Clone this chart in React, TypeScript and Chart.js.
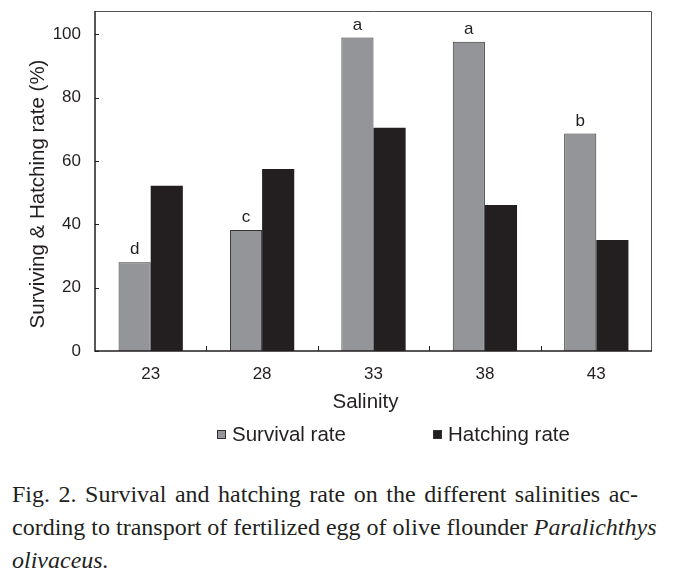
import React, { useEffect, useRef } from "react";
import { Chart, registerables } from "chart.js";

Chart.register(...registerables);

const categories = ["23", "28", "33", "38", "43"];
const survivalRate = [28.0, 38.2, 99.0, 97.7, 68.7];
const hatchingRate = [52.2, 57.5, 70.5, 46.1, 35.1];
const significance = ["d", "c", "a", "a", "b"];
const yTickValues = [0, 20, 40, 60, 80, 100];
const yMax = 107.4;

const seriesNames = ["Survival rate", "Hatching rate"];
const yTitle = "Surviving & Hatching rate (%)";
const xTitle = "Salinity";

const SANS = "'Liberation Sans', Arial, Helvetica, sans-serif";
const INK = "#231f20";
const GREY = "#939598";

const decor = {
  id: "decor",
  afterDatasetsDraw(chart: any) {
    const ctx = chart.ctx;
    const meta = chart.getDatasetMeta(0);
    ctx.save();
    ctx.fillStyle = INK;
    ctx.font = `17px ${SANS}`;
    ctx.textAlign = "center";
    ctx.textBaseline = "alphabetic";
    meta.data.forEach((bar: any, i: number) => {
      ctx.fillText(significance[i], bar.x, bar.y - 8);
    });
    ctx.restore();
  },
  afterDraw(chart: any) {
    const ctx = chart.ctx;
    const { left, right, top, bottom } = chart.chartArea;
    const xs = chart.scales.x;
    const ys = chart.scales.y;
    ctx.save();
    // frame
    ctx.strokeStyle = "#555";
    ctx.lineWidth = 1;
    ctx.beginPath();
    ctx.moveTo(left, top + 0.5);
    ctx.lineTo(right - 0.5, top + 0.5);
    ctx.lineTo(right - 0.5, bottom);
    ctx.stroke();
    ctx.strokeStyle = INK;
    ctx.lineWidth = 1.5;
    ctx.beginPath();
    ctx.moveTo(left, top);
    ctx.lineTo(left, bottom);
    ctx.lineTo(right, bottom);
    ctx.stroke();
    // inner ticks
    ctx.lineWidth = 1;
    ctx.beginPath();
    yTickValues.forEach((v) => {
      const y = Math.round(ys.getPixelForValue(v)) + 0.5;
      ctx.moveTo(left, y);
      ctx.lineTo(left + 4, y);
    });
    for (let i = 1; i < categories.length; i++) {
      const x = Math.round((xs.getPixelForValue(i - 1) + xs.getPixelForValue(i)) / 2) + 0.5;
      ctx.moveTo(x, bottom);
      ctx.lineTo(x, bottom - 5);
    }
    ctx.stroke();
    // y title
    ctx.fillStyle = INK;
    ctx.font = `20.5px ${SANS}`;
    ctx.textAlign = "center";
    ctx.textBaseline = "middle";
    ctx.save();
    ctx.translate(38, 194);
    ctx.rotate(-Math.PI / 2);
    ctx.fillText(yTitle, 0, 0);
    ctx.restore();
    // x title
    ctx.textBaseline = "alphabetic";
    ctx.fillText(xTitle, (left + right) / 2 - 8, bottom + 57);
    // legend
    const legendItems = [
      { x: 217, color: GREY },
      { x: 433, color: INK },
    ];
    ctx.textAlign = "left";
    legendItems.forEach((it, i) => {
      ctx.fillStyle = it.color;
      ctx.fillRect(it.x, 430, 9, 9);
      ctx.strokeStyle = "#333";
      ctx.lineWidth = 1;
      ctx.strokeRect(it.x + 0.5, 430.5, 8, 8);
      ctx.fillStyle = INK;
      ctx.fillText(seriesNames[i], it.x + 15, 441);
    });
    ctx.restore();
  },
};

export default function App() {
  const ref = useRef<HTMLCanvasElement | null>(null);
  useEffect(() => {
    if (!ref.current) return;
    const chart = new Chart(ref.current, {
      type: "bar",
      data: {
        labels: categories,
        datasets: [
          {
            label: seriesNames[0],
            data: survivalRate,
            backgroundColor: GREY,
            borderColor: "#333",
            borderWidth: 1,
            borderSkipped: "bottom",
            barPercentage: 1,
            categoryPercentage: 0.577,
          },
          {
            label: seriesNames[1],
            data: hatchingRate,
            backgroundColor: INK,
            borderColor: INK,
            borderWidth: 0,
            barPercentage: 1,
            categoryPercentage: 0.577,
          },
        ],
      },
      options: {
        responsive: false,
        animation: false,
        devicePixelRatio: 1,
        layout: { padding: { left: 0, top: 11, right: 24, bottom: 0 } },
        plugins: {
          legend: { display: false },
          tooltip: { enabled: false },
        },
        scales: {
          x: {
            grid: { display: false, drawTicks: false },
            border: { display: false },
            ticks: {
              color: INK,
              padding: 13,
              font: { family: SANS, size: 17 },
              maxRotation: 0,
            },
            afterFit(scale: any) {
              scale.height = 109;
              scale.paddingLeft = 0;
              scale.paddingRight = 0;
            },
          },
          y: {
            min: 0,
            max: yMax,
            grid: { display: false, drawTicks: false },
            border: { display: false },
            ticks: {
              color: INK,
              padding: 14,
              font: { family: SANS, size: 17 },
            },
            afterBuildTicks(scale: any) {
              scale.ticks = yTickValues.map((v) => ({ value: v }));
            },
            afterFit(scale: any) {
              scale.width = 95;
              scale.paddingTop = 0;
              scale.paddingBottom = 0;
            },
          },
        },
      },
      plugins: [decor],
    });
    return () => chart.destroy();
  }, []);

  const lineStyle: React.CSSProperties = {
    textAlign: "justify",
    textAlignLast: "justify" as any,
    whiteSpace: "nowrap",
    height: 33,
  };

  return (
    <div style={{ position: "absolute", left: 0, top: 0, width: 676, height: 579, background: "#fff" }}>
      <canvas ref={ref} width={676} height={460} style={{ display: "block", width: 676, height: 460 }} />
      <div
        style={{
          position: "absolute",
          left: 12,
          top: 478,
          fontFamily: "'Liberation Serif', 'Times New Roman', serif",
          fontSize: 24,
          lineHeight: "33px",
          color: INK,
        }}
      >
        <div style={{ ...lineStyle, width: 626 }}>
          Fig. 2. Survival and hatching rate on the different salinities ac-
        </div>
        <div style={{ ...lineStyle, width: 644 }}>
          cording to transport of fertilized egg of olive flounder <i>Paralichthys</i>
        </div>
        <div style={{ height: 33 }}>
          <i>olivaceus.</i>
        </div>
      </div>
    </div>
  );
}
